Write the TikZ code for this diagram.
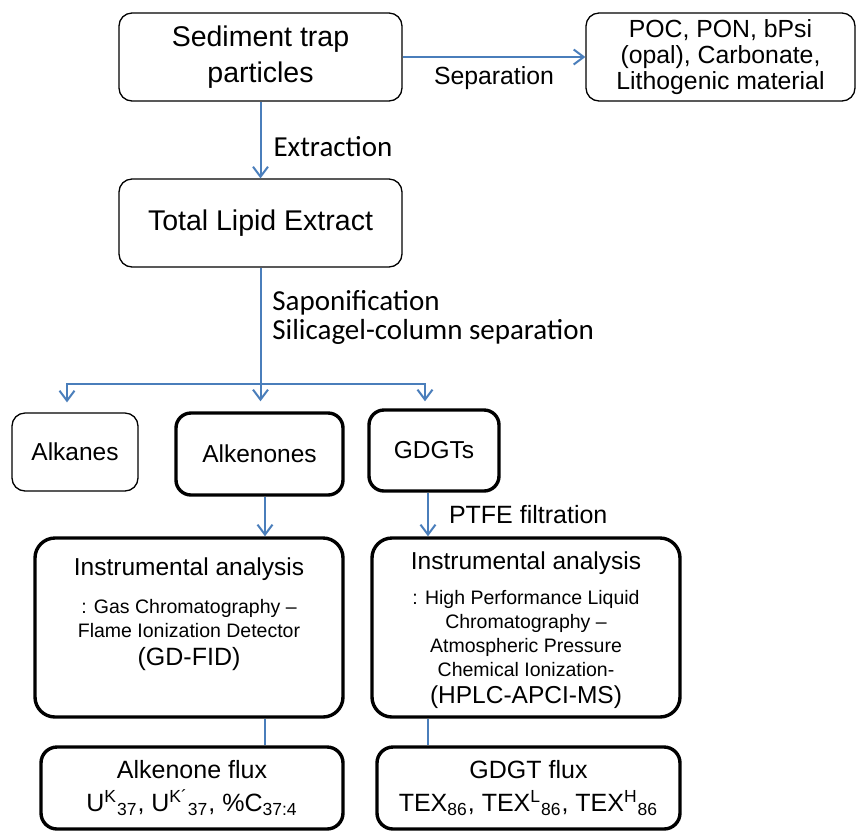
\documentclass[tikz,border=0pt]{standalone}
\usepackage{fontspec}
\setmainfont{Liberation Sans}
\newfontfamily\calibrifont{Carlito}
\usetikzlibrary{arrows.meta, calc}
\definecolor{flowblue}{RGB}{74,126,187}

\begin{document}
\begin{tikzpicture}[x=0.5pt, y=-0.5pt,
  thinbox/.style={draw, rounded corners=6.5pt, line width=0.65pt, align=center, inner sep=0pt},
  thickbox/.style={draw, rounded corners=7.5pt, line width=1.7pt, align=center, inner sep=0pt},
  flow/.style={flowblue, line width=1pt, -{Straight Barb[length=5pt, width=7.5pt, line width=1pt]}},
  link/.style={flowblue, line width=1pt},
  lbl/.style={inner sep=0pt, align=center, text=black},
]
\useasboundingbox (0,0) rectangle (857,832);

\coordinate (colK) at (67,0);
\coordinate (colA) at (265,0);
\coordinate (colD) at (425,0);
\coordinate (colG) at (428,0);
\coordinate (split) at (260.5,384);

\node[thinbox, minimum width=141.5pt, minimum height=44pt, font=\fontsize{14.25}{18}\selectfont] (sed) at (260.5,57) {Sediment trap\\particles};
\node[thinbox, minimum width=134.5pt, minimum height=44pt, font=\fontsize{12.4}{13}\selectfont] (poc) at (720.5,57) {POC, PON, bPsi\\(opal), Carbonate,\\Lithogenic material};
\node[thinbox, minimum width=141.5pt, minimum height=44pt, font=\fontsize{14.25}{18}\selectfont] (tle) at (260.5,223) {Total Lipid Extract};

\node[thinbox, minimum width=63pt, minimum height=39pt, font=\fontsize{12.25}{14}\selectfont] (alka) at (75,452) {Alkanes};
\node[thickbox, minimum width=83.5pt, minimum height=41pt, font=\fontsize{12.25}{14}\selectfont] (alke) at (259.5,454) {Alkenones};
\node[thickbox, minimum width=65pt, minimum height=40.5pt, font=\fontsize{12.25}{14}\selectfont] (gdgt) at (434,450.5) {GDGTs};

\node[thickbox, rounded corners=10pt, minimum width=154pt, minimum height=89.5pt] (instA) at (189,627.5) {};
\node[thickbox, rounded corners=10pt, minimum width=154pt, minimum height=89.5pt] (instG) at (526,627.5) {};
\node[lbl, font=\fontsize{12.25}{14}\selectfont] (instAt) at (189,569) {Instrumental analysis};
\node[lbl, font=\fontsize{9.75}{12}\selectfont] (instAd) at (189,619) {: Gas Chromatography –\\Flame Ionization Detector};
\node[lbl, font=\fontsize{12.5}{14}\selectfont] (instAb) at (189,659) {(GD-FID)};
\node[lbl, font=\fontsize{12.25}{14}\selectfont] (instGt) at (526,563) {Instrumental analysis};
\node[lbl, font=\fontsize{9.75}{11.85}\selectfont] (instGd) at (526,633.5) {: High Performance Liquid\\Chromatography –\\Atmospheric Pressure\\Chemical Ionization-};
\node[lbl, font=\fontsize{12.25}{14}\selectfont] (instGb) at (526,697) {(HPLC-APCI-MS)};

\node[thickbox, rounded corners=8pt, minimum width=151pt, minimum height=41pt, font=\fontsize{12.5}{16.5}\selectfont] (fluxA) at (192,788) {Alkenone flux\\U\textsuperscript{K}\textsubscript{37}, U\textsuperscript{K´}\textsubscript{37}, \%C\textsubscript{37:4}};
\node[thickbox, rounded corners=8pt, minimum width=151.5pt, minimum height=41pt, font=\fontsize{12.5}{16.5}\selectfont] (fluxG) at (528.5,788) {GDGT flux\\TEX\textsubscript{86}, TEX\textsuperscript{L}\textsubscript{86}, TEX\textsuperscript{H}\textsubscript{86}};

\draw[flow] (sed) -- (poc) node[lbl, midway, below=4.5pt, font=\fontsize{12.4}{14}\selectfont] {Separation};
\draw[flow] (sed) -- (tle) node[lbl, midway, right=6pt, yshift=-3.5pt, font=\calibrifont\fontsize{14.5}{14.5}\selectfont] {Extraction};
\draw[link] (tle) -- (split);
\node[lbl, anchor=west, align=left, font=\calibrifont\fontsize{14.5}{14.5}\selectfont] (sapo) at (272,317.5) {Saponification\\Silicagel-column separation};
\draw[flow] (split) -| ([yshift=5pt]colK |- alka.north);
\draw[flow] (split) -- ([yshift=5pt]split |- alke.north);
\draw[flow] (split) -| ([yshift=3.5pt]colD |- gdgt.north);
\draw[flow] (alke.south -| colA) -- (instA.north -| colA);
\draw[flow] (gdgt.south -| colG) -- (instG.north -| colG) node[lbl, midway, right=10pt, font=\fontsize{12.5}{14}\selectfont] {PTFE filtration};
\draw[link, line width=0.7pt] (instA.south -| colA) -- (fluxA.north -| colA);
\draw[link, line width=0.7pt] (instG.south -| colG) -- (fluxG.north -| colG);
\end{tikzpicture}
\end{document}
